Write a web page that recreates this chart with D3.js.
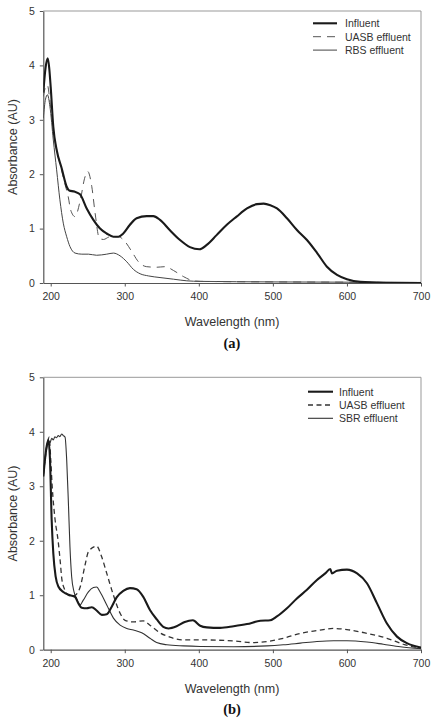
<!DOCTYPE html>
<html>
<head>
<meta charset="utf-8">
<script src="https://cdn.jsdelivr.net/npm/d3@7"></script>
<style>
  html, body { margin: 0; padding: 0; background: #fff; }
  svg { display: block; }
  text { font-family: Arial, "Liberation Sans", Helvetica, sans-serif; fill: #333; }
  text.tag { font-family: "Times New Roman", "Liberation Serif", "DejaVu Serif", serif; fill: #111; font-weight: bold; }
</style>
</head>
<body>
<svg id="chart" width="431" height="722"></svg>
<script>
// ---------- DATA ----------
const xTicks = [200, 300, 400, 500, 600, 700];
const yTicks = [0, 1, 2, 3, 4, 5];
const xDomain = [190, 700];
const yDomain = [0, 5];

// Panel (a)
const aInfluent = [
  [190,3.50],[193,3.95],[196,4.13],[198,3.95],[200,3.60],[203.5,2.87],[208,2.45],[215,2.10],
  [221.6,1.77],[225,1.70],[232,1.68],[239.5,1.63],[248.6,1.37],[257.6,1.16],[266.6,1.00],
  [275.6,0.91],[284.6,0.85],[291.4,0.85],[298,0.91],[307,1.07],[316,1.19],[329.6,1.23],
  [338.6,1.23],[347.6,1.16],[361,0.97],[374.6,0.79],[388,0.66],[400.8,0.62],[410.7,0.70],
  [424,0.88],[437.8,1.07],[451,1.22],[465,1.37],[478.6,1.45],[487.6,1.46],[496.6,1.43],
  [505.6,1.37],[519,1.19],[532.8,0.97],[546,0.79],[559.8,0.55],[573,0.30],[586.6,0.15],
  [600,0.07],[618,0.02],[650,0.005],[700,0.0]
];
const aUASB = [
  [190,3.43],[193,3.60],[195.6,3.64],[198,3.45],[201,3.10],[205.6,2.63],[212.4,2.20],
  [219,1.83],[223.6,1.59],[227,1.34],[232.9,1.22],[239.6,1.50],[246.3,1.95],[250,2.05],
  [255.5,1.77],[260,1.28],[265.7,0.82],[271.3,0.80],[280,0.85],[291.4,0.85],[300.4,0.76],
  [309.4,0.58],[318.5,0.39],[329.6,0.30],[343,0.29],[354.5,0.30],[365.8,0.23],[379,0.12],
  [392.6,0.04],[401.8,0.03],[500,0.02],[600,0.015],[700,0.005]
];
const aRBS = [
  [190,3.03],[193,3.38],[195.6,3.46],[199,3.24],[203.5,2.63],[208,2.08],[212.4,1.53],
  [217,1.10],[221.6,0.85],[226,0.67],[232.9,0.55],[242,0.53],[251,0.53],[262,0.51],
  [275.6,0.53],[284.6,0.55],[293.6,0.50],[302.7,0.39],[311.7,0.25],[320.7,0.17],[332,0.13],
  [347.6,0.10],[365.8,0.07],[383.8,0.04],[401.8,0.03],[500,0.02],[600,0.015],[700,0.01]
];

// Panel (b)
const bInfluent = [
  [190,3.18],[194.5,3.73],[196.8,3.85],[199,3.50],[201.3,2.38],[203.5,1.77],[206.7,1.34],
  [210.3,1.16],[217,1.06],[226,1.00],[232.8,0.97],[237.4,0.85],[241.8,0.77],[248.6,0.76],
  [255.5,0.78],[262,0.72],[269,0.64],[275.7,0.65],[282.4,0.79],[289,0.96],[298,1.08],
  [307,1.13],[316,1.11],[325,0.97],[334,0.73],[343,0.56],[352,0.42],[359,0.39],[370,0.43],
  [381,0.51],[392,0.54],[401.8,0.44],[410.8,0.41],[428.8,0.40],[447,0.43],[465,0.47],
  [483,0.53],[496.4,0.54],[505.4,0.61],[519,0.76],[532.4,0.94],[546,1.10],[559.5,1.28],
  [570.7,1.40],[577.5,1.48],[579.8,1.40],[586.5,1.45],[600,1.47],[613.7,1.40],[627,1.22],
  [640.6,0.85],[654,0.48],[667.6,0.24],[681,0.12],[700,0.04]
];
const bUASB = [
  [190,3.20],[194,3.65],[198,3.90],[200,3.50],[202,3.00],[205.8,2.40],[210,2.00],
  [213,1.60],[215,1.30],[219,1.10],[223.9,1.00],[228,0.98],[233,1.00],[240,1.16],
  [246.3,1.55],[251,1.80],[262,1.90],[268.7,1.71],[275.7,1.40],[284.7,1.00],[293.7,0.67],
  [300.4,0.54],[311.7,0.51],[325,0.53],[334,0.45],[347.6,0.31],[361,0.23],[379,0.18],
  [401.8,0.18],[447,0.16],[474,0.13],[492,0.15],[514,0.21],[537,0.30],[559.5,0.35],
  [582,0.39],[600,0.37],[627,0.30],[654,0.21],[676,0.10],[700,0.02]
];
const bSBR = [
  [190,3.18],[194,3.70],[196.5,3.82],[199,3.80],[201.4,3.88],[203.5,3.85],[205.6,3.91],
  [207.5,3.89],[210.3,3.93],[212.4,3.91],[214.8,3.96],[217,3.93],[219.4,3.90],[221.6,3.48],
  [223.9,2.69],[226,1.89],[228.3,1.34],[231.5,1.06],[235,0.94],[239.6,0.82],[244,0.91],
  [250.9,1.06],[257.7,1.14],[262,1.15],[266.7,1.06],[275.7,0.82],[284.7,0.58],[293.7,0.45],
  [302.7,0.39],[311.7,0.36],[322.9,0.31],[334,0.21],[343,0.13],[356.8,0.09],[379,0.07],
  [401.8,0.06],[447,0.055],[492,0.07],[514,0.09],[537,0.12],[559.5,0.15],[582,0.165],
  [600,0.165],[627,0.14],[649,0.10],[672,0.055],[700,0.02]
];

const panels = [
  { top: 11, bottom: 283, tag: "(a)",
    series: [
      { name: "Influent", data: aInfluent, width: 2.1, color: "#1a1a1a", dash: null },
      { name: "UASB effluent", data: aUASB, width: 1, color: "#555", dash: "8,6" },
      { name: "RBS effluent", data: aRBS, width: 1, color: "#444", dash: null }
    ],
    legend: { x1: 313, x2: 337, tx: 345, y0: 23.3, dy: 13.4 } },
  { top: 377.3, bottom: 649.7, tag: "(b)",
    series: [
      { name: "Influent", data: bInfluent, width: 2.1, color: "#1a1a1a", dash: null },
      { name: "UASB effluent", data: bUASB, width: 1.3, color: "#333", dash: "5,3.5" },
      { name: "SBR effluent", data: bSBR, width: 1.1, color: "#333", dash: null }
    ],
    legend: { x1: 308, x2: 333, tx: 339, y0: 391.7, dy: 13.3 } }
];

// ---------- DRAW ----------
const svg = d3.select("#chart");
const left = 43.3, right = 421;
const sans = 'Arial, "Liberation Sans", Helvetica, sans-serif';

panels.forEach(p => {
  const x = d3.scaleLinear().domain(xDomain).range([left, right]);
  const y = d3.scaleLinear().domain(yDomain).range([p.bottom, p.top]);
  const g = svg.append("g");

  // frame top/right
  g.append("line").attr("x1", left).attr("x2", right).attr("y1", p.top).attr("y2", p.top)
    .attr("stroke", "#999").attr("stroke-width", 1);
  g.append("line").attr("x1", right).attr("x2", right).attr("y1", p.top).attr("y2", p.bottom)
    .attr("stroke", "#999").attr("stroke-width", 1);

  // axes
  const xa = g.append("g").attr("transform", `translate(0,${p.bottom})`)
    .call(d3.axisBottom(x).tickValues(xTicks).tickFormat(d3.format("d"))
      .tickSize(3.5).tickPadding(6).tickSizeOuter(0));
  const ya = g.append("g").attr("transform", `translate(${left},0)`)
    .call(d3.axisLeft(y).tickValues(yTicks).tickFormat(d3.format("d"))
      .tickSize(3.5).tickPadding(5).tickSizeOuter(0));
  [xa, ya].forEach(a => {
    a.attr("font-family", sans);
    a.select(".domain").attr("stroke", "#555").attr("stroke-width", 1.2);
    a.selectAll(".tick line").attr("stroke", "#555");
    a.selectAll("text").attr("font-size", 10.5).attr("fill", "#333");
  });

  // lines
  const line = d3.line().x(d => x(d[0])).y(d => y(d[1])).curve(d3.curveMonotoneX);
  const clipId = "clip" + p.tag.replace(/\W/g, "");
  g.append("clipPath").attr("id", clipId).append("rect")
    .attr("x", left).attr("y", p.top).attr("width", right - left).attr("height", p.bottom - p.top);
  const lg = g.append("g").attr("clip-path", `url(#${clipId})`);
  p.series.slice().reverse().forEach(s => {
    lg.append("path").datum(s.data).attr("d", line)
      .attr("fill", "none").attr("stroke", s.color).attr("stroke-width", s.width)
      .attr("stroke-dasharray", s.dash).attr("stroke-linejoin", "round");
  });

  // legend
  p.series.forEach((s, i) => {
    const ly = p.legend.y0 + i * p.legend.dy;
    g.append("line").attr("x1", p.legend.x1).attr("x2", p.legend.x2).attr("y1", ly).attr("y2", ly)
      .attr("stroke", s.color).attr("stroke-width", s.width).attr("stroke-dasharray", s.dash);
    g.append("text").attr("x", p.legend.tx).attr("y", ly + 3.8)
      .attr("font-size", 10.5).text(s.name);
  });

  // axis titles
  g.append("text").attr("x", 232).attr("y", p.bottom + 43)
    .attr("text-anchor", "middle").attr("font-size", 12.5).text("Wavelength (nm)");
  g.append("text").attr("transform", `translate(16.5,${(p.top + p.bottom) / 2}) rotate(-90)`)
    .attr("text-anchor", "middle").attr("font-size", 12.5).text("Absorbance (AU)");
  g.append("text").attr("class", "tag").attr("x", 232).attr("y", p.bottom + 64.5)
    .attr("text-anchor", "middle").attr("font-size", 14.5)
    .text(p.tag);
});
</script>
</body>
</html>
